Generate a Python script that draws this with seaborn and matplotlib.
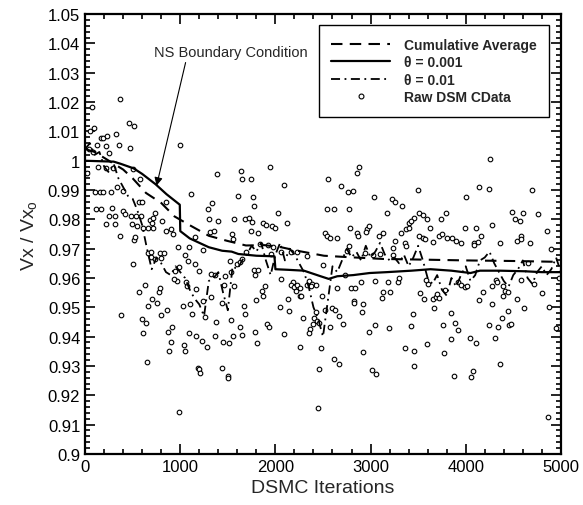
import numpy as np
import pandas as pd
import matplotlib
matplotlib.use('Agg')
import matplotlib.pyplot as plt
from matplotlib.lines import Line2D
from matplotlib.ticker import MultipleLocator, FuncFormatter
import seaborn as sns

# theta = 0.001 (solid)
sol_iter = [0, 300, 370, 510, 600, 740, 855, 995, 1000, 1100, 1300, 1440, 1540, 1610, 1800,
            1990, 2000, 2130, 2300, 2475, 2560, 2650, 2820, 2990, 3170, 3430, 3630, 3850,
            4050, 4150, 4360, 4620, 4800, 5000]
sol_vx = [1.000, 0.9997, 0.999, 0.9974, 0.9955, 0.992, 0.9886, 0.985, 0.976, 0.9735, 0.9705,
          0.9693, 0.969, 0.9682, 0.9676, 0.9674, 0.963, 0.9628, 0.9625, 0.9606, 0.9597, 0.9606,
          0.961, 0.9617, 0.962, 0.9625, 0.963, 0.9625, 0.9617, 0.9625, 0.9625, 0.9623, 0.962,
          0.962]

# cumulative average (dashed)
cum_iter = [0, 100, 200, 300, 400, 500, 640, 800, 940, 1100, 1300, 1490, 1690, 1890, 2060,
            2230, 2510, 2720, 3130, 3500, 4000, 4500, 5000]
cum_vx = [1.004, 1.003, 1.001, 0.999, 0.997, 0.994, 0.989, 0.9856, 0.981, 0.978, 0.9744,
          0.9727, 0.9711, 0.9712, 0.9705, 0.9693, 0.9676, 0.9672, 0.9665, 0.9663, 0.966,
          0.9658, 0.9655]

# theta = 0.01 (dash-dot)
dd_iter = list(range(0, 5001, 50))
dd_vx = [1.004, 1.006, 1.002, 1.003, 0.998, 0.996, 0.999, 0.994, 0.991, 0.988,
         0.987, 0.983, 0.978, 0.970, 0.963, 0.967, 0.965, 0.962, 0.961, 0.964,
         0.962, 0.960, 0.956, 0.953, 0.951, 0.947, 0.959, 0.960, 0.962, 0.955,
         0.949, 0.964, 0.963, 0.966, 0.968, 0.971, 0.969, 0.972, 0.966, 0.961,
         0.968, 0.972, 0.966, 0.970, 0.968, 0.965, 0.962, 0.957, 0.950, 0.946,
         0.940, 0.952, 0.964, 0.962, 0.966, 0.970, 0.967, 0.969, 0.966, 0.971,
         0.967, 0.969, 0.972, 0.968, 0.966, 0.967, 0.965, 0.968, 0.964, 0.967,
         0.971, 0.966, 0.960, 0.958, 0.961, 0.956, 0.954, 0.960, 0.957, 0.961,
         0.964, 0.959, 0.961, 0.966, 0.967, 0.969, 0.965, 0.962, 0.959, 0.957,
         0.961, 0.963, 0.966, 0.960, 0.958, 0.962, 0.964, 0.961, 0.963, 0.967,
         0.962]

# raw DSMC data points
raw_iter = [
    363, 69, 460, 519, 93, 52, 163, 190, 232, 329, 128, 218, 356, 467, 252, 997, 45, 86,
    138, 218, 294, 17, 502, 578, 1384, 1637, 1651, 1748, 104, 160, 185, 277, 336, 398,
    1118, 1602, 1765, 114, 163, 284, 398, 415, 564, 599, 484, 536, 588, 252, 311, 218,
    311, 495, 543, 682, 716, 702, 737, 813, 855, 606, 657, 709, 370, 509, 529, 855, 900,
    924, 1152, 1291, 1332, 1298, 1395, 1315, 1350, 1568, 1678, 1720, 1547, 1557, 1741,
    1755, 979, 1090, 1235, 785, 657, 692,
    1948, 2087, 1775, 2554, 2692, 2758, 2814, 2883, 2855, 3035, 3229, 3253, 2544, 2613,
    2769, 3174, 2031, 2121, 1869, 1903, 1962, 1997, 1817, 2786, 2959, 2952, 2855, 2872,
    2987, 2516, 2544, 2578, 2647, 3090, 3132, 3253, 1834, 1921, 1972, 2769,
    4257, 3496, 4143, 4247, 4005, 3333, 4482, 4603, 4517, 4569, 3738, 3790, 3513, 3548,
    3589, 3461, 3402, 3427, 3375, 3402, 3624, 3991, 4108, 4281, 4579, 3323, 3513, 3548,
    3575, 3357, 3652, 3721, 3755, 3807, 3852, 3894, 3946, 4084, 4129, 4084, 4164, 4361,
    4534, 4586, 3236, 3375,
    502, 692, 831, 737, 796, 1055, 1083, 1152, 1201, 945, 986, 633, 571, 772, 786, 702,
    658, 751, 381, 796, 865, 599, 640, 917, 876, 606, 900, 883, 1038, 1049, 1097, 1166,
    1229, 1281, 651, 986, 1187, 1200, 1211, 1499, 1505, 1443, 1360, 1454, 1512, 1557,
    1654, 1627, 1374, 1533, 1678, 1671, 1436, 1326, 1256, 1125, 1028, 1107, 1235, 1166,
    1073, 1062, 969, 934, 1326, 1367, 1471, 1533, 1523, 1592, 1627, 1644, 1776, 1782,
    1800, 1782, 1807, 1696, 1464, 1568,
    1955, 2059, 2163, 2225, 2329, 2751, 2942, 3021, 3104, 3236, 1817, 2502, 1893, 1858,
    1869, 2059, 2180, 2163, 2197, 2232, 2260, 2215, 2260, 2329, 2353, 2388, 2422, 2371,
    2135, 2274, 2492, 2647, 2793, 2838, 2896, 2734, 2821, 2828, 2924, 2907, 2049, 2146,
    2294, 2595, 2630, 2665, 2710, 2429, 2405, 2440, 2457, 2398, 2364, 2353, 2571, 2526,
    1914, 1928, 2094, 2260, 2481, 2917, 2620, 2665, 2457, 3011, 3056, 2447, 3045, 3194,
    2987, 3132, 3125, 3208, 3045,
    3184, 3288, 3299, 3444, 3427, 3357, 3461, 3454, 3520, 3565, 3600, 3582, 3652, 3686,
    3703, 3721, 3669, 3589, 3762, 3773, 3783, 3845, 3887, 3921, 3842, 3880, 3921, 3946,
    3991, 4015, 4050, 4108, 4060, 4074, 4143, 4177, 4240, 4275, 4309, 4337, 4361, 4385,
    4396, 4441, 4454, 4475, 4534, 4586, 4614, 4275, 4316, 4326, 4396, 4413, 4441,
    4700, 4760, 4850, 4900, 4680, 4720, 4800, 4880, 4950, 4860, 4980, 4650]
raw_vx = [
    1.0212, 1.0182, 1.0128, 1.0117, 1.0113, 1.0102, 1.0079, 1.0079, 1.0085, 1.0092, 1.0053,
    1.0049, 1.0053, 1.0042, 1.0028, 1.0053, 1.0040, 1.0030, 0.9977, 0.9974, 0.9974, 0.9958,
    0.9971, 0.9939, 0.9955, 0.9964, 0.9937, 0.9937, 0.9894, 0.9892, 0.9892, 0.9892, 0.9912,
    0.9897, 0.9888, 0.9880, 0.9875, 0.9835, 0.9835, 0.9838, 0.9829, 0.9818, 0.9860, 0.9860,
    0.9812, 0.9812, 0.9812, 0.9812, 0.9812, 0.9784, 0.9784, 0.9784, 0.9776, 0.9798, 0.9806,
    0.9787, 0.9821, 0.9795, 0.9860, 0.9772, 0.9772, 0.9772, 0.9744, 0.9730, 0.9740, 0.9761,
    0.9767, 0.9750, 0.9740, 0.9835, 0.9857, 0.9803, 0.9795, 0.9757, 0.9761, 0.9803, 0.9801,
    0.9806, 0.9750, 0.9733, 0.9761, 0.9790, 0.9707, 0.9707, 0.9696, 0.9685, 0.9685, 0.9670,
    0.9980, 0.9918, 0.9846, 0.9937, 0.9914, 0.9894, 0.9897, 0.9980, 0.9958, 0.9875, 0.9871,
    0.9858, 0.9837, 0.9837, 0.9837, 0.9821, 0.9823, 0.9789, 0.9789, 0.9780, 0.9776, 0.9769,
    0.9753, 0.9772, 0.9767, 0.9757, 0.9755, 0.9744, 0.9776, 0.9753, 0.9744, 0.9738, 0.9738,
    0.9744, 0.9753, 0.9727, 0.9715, 0.9712, 0.9707, 0.9710,
    1.0005, 0.9900, 0.9912, 0.9903, 0.9878, 0.9846, 0.9826, 0.9821, 0.9801, 0.9795, 0.9801,
    0.9823, 0.9821, 0.9814, 0.9803, 0.9806, 0.9787, 0.9795, 0.9767, 0.9770, 0.9769, 0.9772,
    0.9772, 0.9780, 0.9742, 0.9753, 0.9744, 0.9738, 0.9733, 0.9721, 0.9723, 0.9744, 0.9749,
    0.9738, 0.9735, 0.9727, 0.9719, 0.9721, 0.9723, 0.9712, 0.9742, 0.9721, 0.9727, 0.9733,
    0.9704, 0.9708,
    0.9648, 0.9688, 0.9685, 0.9665, 0.9667, 0.9679, 0.9659, 0.9648, 0.9625, 0.9625, 0.9636,
    0.9576, 0.9551, 0.9553, 0.9565, 0.9528, 0.9503, 0.9515, 0.9475, 0.9475, 0.9492, 0.9460,
    0.9447, 0.9432, 0.9415, 0.9411, 0.9383, 0.9352, 0.9372, 0.9352, 0.9412, 0.9401, 0.9386,
    0.9366, 0.9312, 0.9142, 0.9292, 0.9290, 0.9276, 0.9265, 0.9258, 0.9293, 0.9401, 0.9381,
    0.9377, 0.9401, 0.9406, 0.9434, 0.9451, 0.9457, 0.9477, 0.9506, 0.9515, 0.9534, 0.9466,
    0.9477, 0.9503, 0.9511, 0.9523, 0.9563, 0.9574, 0.9585, 0.9591, 0.9597, 0.9614, 0.9610,
    0.9608, 0.9622, 0.9659, 0.9648, 0.9653, 0.9665, 0.9629, 0.9610, 0.9526, 0.9415, 0.9377,
    0.9688, 0.9576, 0.9574,
    0.9682, 0.9688, 0.9690, 0.9688, 0.9676, 0.9693, 0.9685, 0.9679, 0.9682, 0.9679, 0.9629,
    0.9644, 0.9572, 0.9557, 0.9540, 0.9597, 0.9585, 0.9576, 0.9568, 0.9576, 0.9565, 0.9557,
    0.9540, 0.9576, 0.9591, 0.9580, 0.9576, 0.9572, 0.9528, 0.9538, 0.9540, 0.9565, 0.9565,
    0.9565, 0.9588, 0.9610, 0.9523, 0.9515, 0.9511, 0.9483, 0.9500, 0.9489, 0.9463, 0.9497,
    0.9492, 0.9469, 0.9443, 0.9483, 0.9463, 0.9455, 0.9447, 0.9443, 0.9426, 0.9412, 0.9432,
    0.9490, 0.9443, 0.9432, 0.9409, 0.9363, 0.9360, 0.9349, 0.9324, 0.9307, 0.9290, 0.9287,
    0.9273, 0.9155, 0.9440, 0.9428, 0.9417, 0.9553, 0.9531, 0.9551, 0.9590,
    0.9588, 0.9588, 0.9599, 0.9477, 0.9435, 0.9361, 0.9352, 0.9299, 0.9549, 0.9528, 0.9580,
    0.9594, 0.9528, 0.9534, 0.9545, 0.9531, 0.9498, 0.9375, 0.9440, 0.9344, 0.9560, 0.9481,
    0.9447, 0.9424, 0.9392, 0.9267, 0.9588, 0.9576, 0.9568, 0.9572, 0.9394, 0.9377, 0.9263,
    0.9282, 0.9525, 0.9551, 0.9440, 0.9511, 0.9394, 0.9432, 0.9307, 0.9463, 0.9538, 0.9486,
    0.9440, 0.9443, 0.9528, 0.9594, 0.9497, 0.9574, 0.9594, 0.9585, 0.9572, 0.9557, 0.9551,
    0.990, 0.982, 0.976, 0.970, 0.972, 0.958, 0.955, 0.950, 0.943, 0.9125, 0.960, 0.965]

sns.set_style("ticks")
plt.rcParams['font.family'] = ['Liberation Sans', 'DejaVu Sans']
plt.rcParams['mathtext.fontset'] = 'custom'
plt.rcParams['mathtext.rm'] = 'Liberation Sans'
plt.rcParams['mathtext.it'] = 'Liberation Sans'

fig = plt.figure(figsize=(5.83, 5.06), dpi=100)
ax = fig.add_axes([0.146, 0.101, 0.816, 0.869])

raw = pd.DataFrame({'iter': raw_iter, 'vx': raw_vx})
sns.scatterplot(data=raw, x='iter', y='vx', ax=ax, marker='o', s=11, color='white',
                edgecolor='black', linewidth=0.8, zorder=2, legend=False)

cum = pd.DataFrame({'iter': cum_iter, 'vx': cum_vx})
sns.lineplot(data=cum, x='iter', y='vx', ax=ax, color='black', lw=1.5,
             dashes=False, sort=False, estimator=None, zorder=3)
ax.lines[-1].set_dashes([5.5, 3.5])

dd = pd.DataFrame({'iter': dd_iter, 'vx': dd_vx})
sns.lineplot(data=dd, x='iter', y='vx', ax=ax, color='black', lw=1.3,
             sort=False, estimator=None, zorder=3)
ax.lines[-1].set_dashes([5, 2.5, 1, 2.5])

sol = pd.DataFrame({'iter': sol_iter, 'vx': sol_vx})
sns.lineplot(data=sol, x='iter', y='vx', ax=ax, color='black', lw=1.6,
             sort=False, estimator=None, zorder=4)

ax.set_xlim(0, 5000)
ax.set_ylim(0.9, 1.05)
ax.xaxis.set_major_locator(MultipleLocator(1000))
ax.xaxis.set_minor_locator(MultipleLocator(200))
ax.yaxis.set_major_locator(MultipleLocator(0.01))
ax.yaxis.set_minor_locator(MultipleLocator(0.002))
ax.yaxis.set_major_formatter(FuncFormatter(lambda v, p: '{:g}'.format(round(v, 2))))
ax.tick_params(which='both', direction='in', top=True, right=True, width=1.2,
               labelsize=12, colors='black')
ax.tick_params(which='major', length=7)
ax.tick_params(which='minor', length=3.5)
for sp in ax.spines.values():
    sp.set_linewidth(1.6)
    sp.set_color('black')

ax.set_xlabel('DSMC Iterations', fontsize=14, labelpad=4)
ax.set_ylabel(r'Vx / Vx$_{\mathrm{o}}$', fontsize=14, labelpad=6)

ax.text(1527, 1.037, 'NS Boundary Condition', ha='center', va='center', fontsize=10.5)
ax.annotate('', xy=(751, 0.9915), xytext=(1056, 1.0335),
            arrowprops=dict(arrowstyle='-|>', color='black', lw=0.8,
                            mutation_scale=12, shrinkA=0, shrinkB=0))

handles = [
    Line2D([], [], color='black', lw=1.5, dashes=[5.5, 3.5]),
    Line2D([], [], color='black', lw=1.6),
    Line2D([], [], color='black', lw=1.3, dashes=[5, 2.5, 1, 2.5]),
    Line2D([], [], ls='none', marker='o', markersize=3.5, markerfacecolor='white',
           markeredgecolor='black', markeredgewidth=0.8),
]
labels = ['Cumulative Average', '\u03b8 = 0.001', '\u03b8 = 0.01', 'Raw DSM CData']
leg = ax.legend(handles, labels, loc='upper right', bbox_to_anchor=(0.975, 0.975),
                prop={'weight': 'bold', 'size': 10}, frameon=True, fancybox=False,
                framealpha=1, edgecolor='black', handlelength=4.2, borderpad=0.9,
                labelspacing=0.25, handletextpad=1.0, borderaxespad=0)
leg.get_frame().set_linewidth(1.0)

fig.savefig('out.png', dpi=100)
